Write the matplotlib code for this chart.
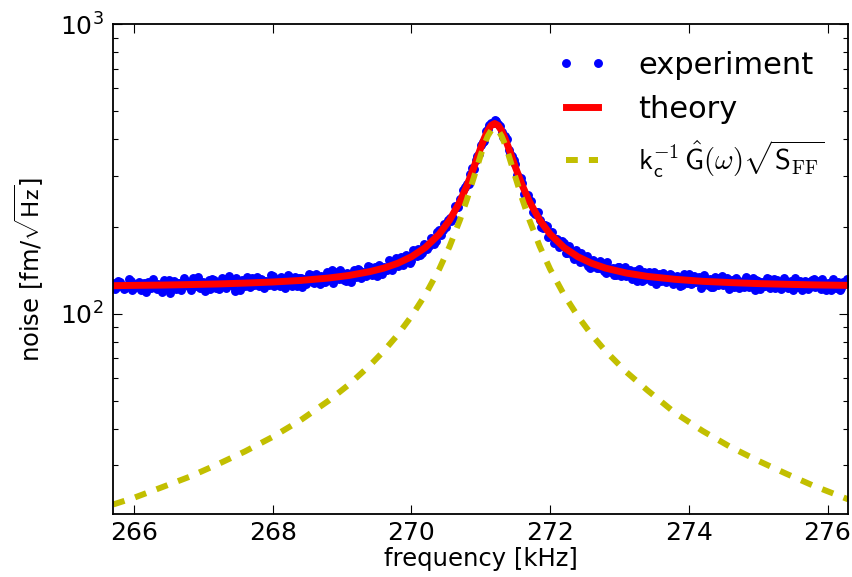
import numpy as np
import matplotlib
matplotlib.use("Agg")
import matplotlib.pyplot as plt

# Measured noise spectrum [fm/sqrt(Hz)], sweep from 265.700 kHz in 0.05 kHz steps
f_start = 265.70
f_step = 0.05
noise_exp = [
    127.4, 123.8, 128.8, 121.3, 125.1, 130.1, 122.7, 126.5, 120.2, 127.8,
    129.1, 122.9, 125.4, 126.8, 119.2, 128.1, 130.6, 124.4, 121.9, 127.1,
    125.9, 129.8, 123.5, 132.4, 124.8, 122.4, 128.8, 126.4, 121.3, 130.3,
    127.9, 124.2, 131.9, 125.6, 129.5, 119.5, 128.5, 131.1, 124.9, 127.6,
    132.8, 126.5, 124.2, 130.7, 129.6, 125.8, 135.0, 127.4, 125.0, 131.7,
    128.0, 133.4, 129.8, 124.8, 132.8, 131.8, 128.2, 136.2, 127.4, 132.9,
    134.6, 128.4, 134.0, 141.1, 132.2, 131.3, 138.5, 129.6, 136.9, 136.1,
    134.0, 141.5, 139.5, 134.6, 145.3, 139.2, 134.4, 145.4, 145.1, 142.0,
    150.6, 147.6, 146.2, 156.9, 151.3, 158.0, 152.5, 161.3, 167.4, 162.4,
    170.9, 171.4, 181.1, 178.9, 193.8, 194.6, 199.9, 214.6, 213.5, 233.6,
    249.2, 267.2, 279.7, 303.0, 317.1, 349.9, 382.1, 395.1, 433.2, 456.2,
    467.7, 451.8, 424.6, 411.3, 367.1, 349.9, 329.9, 294.1, 282.4, 254.2,
    246.7, 224.4, 224.5, 210.4, 197.9, 200.4, 190.1, 175.2, 181.1, 171.4,
    176.0, 162.4, 164.1, 154.9, 160.3, 162.6, 151.3, 146.4, 152.2, 147.6,
    143.3, 149.2, 138.0, 143.9, 144.3, 136.4, 145.3, 137.4, 135.3, 141.5,
    138.1, 129.3, 138.2, 139.1, 133.2, 130.0, 138.8, 133.1, 130.0, 135.0,
    130.7, 135.5, 128.7, 132.3, 125.6, 133.1, 136.7, 127.4, 128.5, 133.4,
    125.4, 130.4, 131.5, 123.6, 132.5, 128.4, 125.7, 133.2, 126.7, 124.0,
    130.3, 128.9, 123.6, 131.1, 125.9, 120.7, 129.5, 128.2, 124.3, 131.8,
    125.3, 122.7, 128.9, 126.4, 130.1, 123.7, 121.1, 127.4, 129.8, 124.6,
    128.4, 123.3, 132.0, 124.4, 121.8, 126.8, 128.0, 120.4, 126.7, 129.1,
    122.8, 126.5, 130.2,
]
# second interleaved sweep, starting half a step later (265.725 kHz)
noise_exp_mid = [
    121.3, 130.0, 125.0, 122.6, 131.4, 120.2, 126.5, 129.0, 124.0, 119.0,
    127.9, 131.7, 121.7, 125.5, 130.6, 123.1, 118.2, 129.5, 127.1, 120.9,
    132.3, 124.7, 121.1, 128.6, 133.8, 123.8, 120.1, 130.2, 131.6, 122.8,
    121.6, 133.1, 123.1, 134.6, 124.6, 132.3, 120.9, 128.7, 133.9, 123.9,
    125.2, 134.3, 131.9, 123.1, 127.1, 136.2, 124.8, 131.4, 134.2, 122.7,
    135.9, 124.5, 133.8, 132.7, 123.9, 126.8, 137.4, 128.6, 136.8, 126.5,
    128.2, 139.2, 130.2, 128.0, 139.2, 141.0, 130.8, 138.0, 129.0, 141.9,
    142.6, 132.3, 137.1, 146.3, 136.0, 145.3, 147.7, 137.4, 141.4, 152.9,
    141.0, 155.8, 153.0, 147.2, 160.0, 149.8, 166.3, 157.9, 159.2, 174.1,
    167.7, 182.3, 174.6, 190.9, 187.6, 204.1, 210.2, 208.7, 234.6, 232.9,
    249.0, 273.2, 280.9, 317.7, 339.7, 356.7, 392.9, 429.2, 448.2, 456.9,
    461.4, 443.8, 408.4, 400.7, 356.7, 339.7, 302.2, 295.2, 259.8, 256.5,
    244.8, 221.1, 223.8, 199.9, 202.2, 183.7, 190.9, 181.8, 170.0, 177.9,
    162.4, 170.7, 157.9, 166.3, 151.3, 152.3, 157.9, 144.0, 152.9, 144.0,
    151.4, 140.0, 150.3, 139.2, 135.5, 144.4, 135.1, 145.4, 140.6, 131.6,
    140.5, 142.6, 129.9, 132.1, 139.7, 136.5, 126.6, 136.9, 137.9, 128.2,
    137.1, 126.2, 135.1, 124.4, 137.2, 127.8, 126.2, 135.1, 132.3, 122.9,
    135.7, 125.1, 123.6, 133.8, 125.9, 134.8, 132.0, 121.7, 130.5, 132.9,
    122.6, 130.1, 133.8, 123.5, 132.3, 130.9, 121.9, 124.4, 133.1, 122.9,
    131.7, 130.3, 121.3, 132.7, 122.5, 130.0, 132.4, 123.6, 121.0, 129.7,
    122.1, 130.8, 123.2, 129.5, 131.9, 120.5, 121.7, 131.7, 122.9, 120.3,
    129.1, 131.5,
]
freq_exp = f_start + f_step * np.arange(len(noise_exp))
freq_exp_mid = f_start + f_step / 2 + f_step * np.arange(len(noise_exp_mid))

# Theory curve and force-noise contribution, read at these frequencies [kHz]
freq_curve = [
    265.7, 266.0, 266.4, 266.8, 267.2, 267.6, 268.0, 268.4, 268.8, 269.1,
    269.4, 269.6, 269.8, 270.0, 270.2, 270.4, 270.55, 270.7, 270.8, 270.9,
    271.0, 271.05, 271.1, 271.15, 271.2, 271.25, 271.3, 271.35, 271.4, 271.5,
    271.6, 271.7, 271.85, 272.0, 272.2, 272.4, 272.6, 272.8, 273.1, 273.4,
    273.8, 274.2, 274.6, 275.0, 275.4, 275.8, 276.3,
]
noise_theory = [
    124.9, 125.2, 125.5, 126.0, 126.6, 127.5, 128.6, 130.2, 132.7, 135.5,
    139.7, 143.6, 149.2, 157.2, 169.2, 188.2, 210.4, 244.2, 276.8, 320.4,
    374.6, 403.2, 428.9, 447.3, 454.1, 447.3, 428.9, 403.2, 374.6, 320.4,
    276.8, 244.2, 210.4, 188.2, 169.2, 157.2, 149.2, 143.6, 138.1, 134.5,
    131.4, 129.3, 128.0, 127.0, 126.3, 125.7, 125.2,
]
noise_force = [
    21.9, 23.1, 25.1, 27.3, 30.1, 33.4, 37.5, 42.8, 49.9, 56.9,
    66.2, 74.2, 84.4, 97.9, 116.2, 142.4, 170.7, 211.0, 248.0, 295.8,
    353.8, 384.0, 410.9, 430.1, 437.1, 430.1, 410.9, 384.0, 353.8, 295.8,
    248.0, 211.0, 170.7, 142.4, 116.2, 97.9, 84.4, 74.2, 62.8, 54.4,
    45.4, 39.3, 34.6, 31.0, 28.0, 25.4, 22.8,
]

plt.rcParams["mathtext.fontset"] = "cm"
plt.rcParams["lines.scale_dashes"] = False

fig = plt.figure(figsize=(8.53, 5.77), dpi=100)
ax = fig.add_axes([0.1328, 0.1087, 0.8617, 0.8492])

ax.plot(freq_exp, noise_exp, "o", color="b", mec="b", ms=5.4, label="experiment")
ax.plot(freq_exp_mid, noise_exp_mid, "o", color="b", mec="b", ms=5.4)
ax.plot(freq_curve, noise_theory, "-", color="r", lw=5, label="theory")
ax.plot(freq_curve, noise_force, "--", color="#c2bf00", lw=4.3, dashes=(8.5, 8),
        label=r"$\mathsf{k}_\mathsf{c}^{-1}\,\hat{\mathsf{G}}(\omega)\sqrt{\mathsf{S}_\mathrm{FF}}$")

ax.set_yscale("log")
ax.set_xlim(265.7, 276.3)
ax.set_ylim(20.25, 1000)
ax.set_xticks([266, 268, 270, 272, 274, 276])

ax.set_xlabel("frequency [kHz]", fontsize=17.5, labelpad=1)
ax.set_ylabel(r"noise [fm/$\sqrt{\mathsf{Hz}}$]", fontsize=17.5, labelpad=10)

ax.tick_params(which="both", direction="in", top=True, right=True, labelsize=18)
ax.tick_params(axis="x", which="major", length=6.5, width=0.8, pad=5)
ax.tick_params(axis="y", which="major", length=6.5, width=0.8, pad=7)
ax.tick_params(which="minor", length=3.5, width=0.8)
for s in ax.spines.values():
    s.set_linewidth(1.3)

leg = ax.legend(loc="upper left", bbox_to_anchor=(0.587, 0.971), borderaxespad=0,
                frameon=False, numpoints=2, fontsize=22, handlelength=1.65,
                handletextpad=1.0, labelspacing=0.5)
leg.get_texts()[2].set_fontsize(20.5)

fig.savefig("out.png", dpi=100)
